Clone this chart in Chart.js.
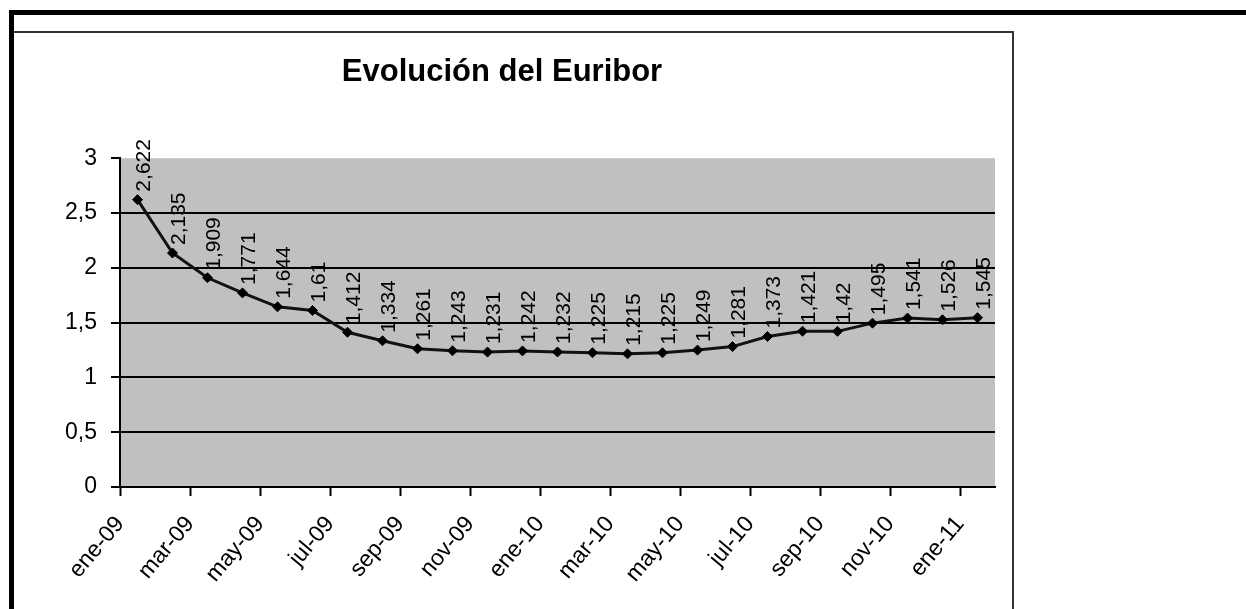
<!DOCTYPE html>
<html>
<head>
<meta charset="utf-8">
<script src="https://cdn.jsdelivr.net/npm/chart.js@4.4.0/dist/chart.umd.min.js"></script>
<style>
    html, body { margin: 0; padding: 0; background: #fff; width: 1246px; height: 609px; overflow: hidden; }
    #frame { position: absolute; left: 9px; top: 10px; right: -10px; bottom: -10px; border-top: 5px solid #000; border-left: 5px solid #000; }
    #box { position: absolute; left: 14px; top: 31px; width: 998px; bottom: -10px; border-top: 2px solid #333; border-right: 2px solid #333; }
    #wrap { position: absolute; left: 0; top: 0; width: 1246px; height: 609px; }
</style>
</head>
<body>
<div id="frame"></div>
<div id="box"></div>
<div id="wrap"><canvas id="euriborChart" width="1246" height="609"></canvas></div>

<script>
/* Evolución del Euribor — datos mensuales ene-09 .. ene-11 */
const months = [
    'ene-09', 'feb-09', 'mar-09', 'abr-09', 'may-09', 'jun-09', 'jul-09', 'ago-09',
    'sep-09', 'oct-09', 'nov-09', 'dic-09', 'ene-10', 'feb-10', 'mar-10', 'abr-10',
    'may-10', 'jun-10', 'jul-10', 'ago-10', 'sep-10', 'oct-10', 'nov-10', 'dic-10',
    'ene-11'
];
const euribor = [
    2.622, 2.135, 1.909, 1.771, 1.644, 1.61, 1.412, 1.334,
    1.261, 1.243, 1.231, 1.242, 1.232, 1.225, 1.215, 1.225,
    1.249, 1.281, 1.373, 1.421, 1.42, 1.495, 1.541, 1.526,
    1.545
];
const yTicks = [0, 0.5, 1, 1.5, 2, 2.5, 3];

Chart.defaults.font.family = "'Liberation Sans', Arial, sans-serif";
Chart.defaults.color = '#000';

const fmt = v => String(v).replace('.', ',');

// gray plot background like the Excel plot area
const plotBg = {
    id: 'plotBg',
    beforeDraw(chart) {
        const { ctx, chartArea: a } = chart;
        ctx.save();
        ctx.fillStyle = '#c0c0c0';
        ctx.fillRect(a.left, a.top, a.right - a.left, a.bottom - a.top);
        ctx.restore();
    }
};

// vertical value labels above each point
const valueLabels = {
    id: 'valueLabels',
    afterDatasetsDraw(chart) {
        const ctx = chart.ctx;
        const meta = chart.getDatasetMeta(0);
        ctx.save();
        ctx.fillStyle = '#000';
        ctx.font = "21px 'Liberation Sans', Arial, sans-serif";
        ctx.textAlign = 'left';
        ctx.textBaseline = 'middle';
        meta.data.forEach((pt, i) => {
            ctx.save();
            ctx.translate(pt.x + 7, pt.y - 8);
            ctx.rotate(-Math.PI / 2);
            ctx.fillText(fmt(euribor[i]), 0, 0);
            ctx.restore();
        });
        ctx.restore();
    }
};

new Chart(document.getElementById('euriborChart').getContext('2d'), {
    type: 'line',
    data: {
        datasets: [{
            label: 'Euribor',
            data: euribor.map((v, i) => ({ x: i, y: v })),
            borderColor: '#111',
            borderWidth: 3,
            tension: 0,
            pointStyle: 'rectRot',
            pointRadius: 5,
            pointBackgroundColor: '#000',
            pointBorderColor: '#000',
            pointBorderWidth: 1
        }]
    },
    options: {
        responsive: false,
        animation: false,
        layout: { padding: { left: 9, right: 251, top: 40, bottom: 0 } },
        plugins: {
            legend: { display: false },
            tooltip: { enabled: false },
            title: {
                display: true,
                text: 'Evolución del Euribor',
                color: '#000',
                font: { size: 31, weight: 'bold' },
                padding: { top: 14, bottom: 67 }
            }
        },
        scales: {
            x: {
                type: 'linear',
                min: -0.5,
                max: months.length - 0.5,
                afterBuildTicks(scale) {
                    scale.ticks = months
                        .map((m, i) => i)
                        .filter(i => i % 2 === 0)
                        .map(i => ({ value: i - 0.5 }));
                },
                afterFit(scale) { scale.height = 122; },
                grid: {
                    drawOnChartArea: false,
                    drawTicks: true,
                    tickLength: 9,
                    tickWidth: 2,
                    tickColor: '#000'
                },
                border: { display: true, color: '#000', width: 2 },
                ticks: {
                    autoSkip: false,
                    maxRotation: 50,
                    minRotation: 50,
                    padding: 15,
                    font: { size: 23 },
                    callback: v => months[Math.round(v + 0.5)]
                }
            },
            y: {
                min: yTicks[0],
                max: yTicks[yTicks.length - 1],
                afterBuildTicks(scale) {
                    scale.ticks = yTicks.map(v => ({ value: v }));
                },
                afterFit(scale) { scale.width = 111; },
                grid: {
                    color: c => c.tick && c.tick.value === 3 ? 'rgba(0,0,0,0)' : '#000',
                    lineWidth: 2,
                    drawTicks: true,
                    tickLength: 9,
                    tickColor: '#000',
                    tickWidth: 2
                },
                border: { display: true, color: '#000', width: 2 },
                ticks: {
                    padding: 14,
                    font: { size: 23 },
                    callback: v => fmt(v)
                }
            }
        }
    },
    plugins: [plotBg, valueLabels]
});
</script>
</body>
</html>
